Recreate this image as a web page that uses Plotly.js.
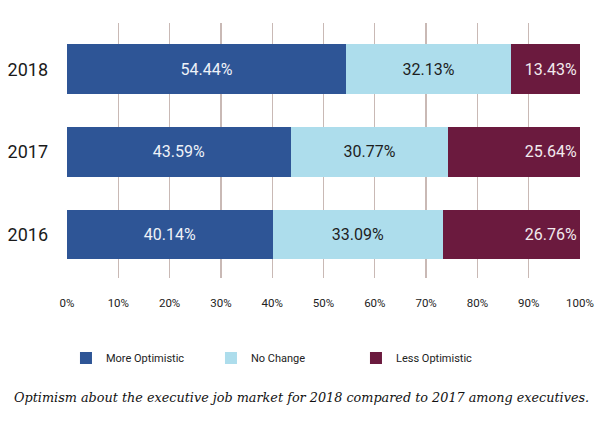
<!DOCTYPE html>
<html>
<head>
<meta charset="utf-8">
<script src="https://cdn.plot.ly/plotly-3.0.1.min.js"></script>
<style>html,body{margin:0;padding:0;background:#fff;}#chart{width:600px;height:427px;}</style>
</head>
<body>
<div id="chart"></div>
<script>
var years = ['2016', '2017', '2018'];
var moreOptimistic = [40.14, 43.59, 54.44];
var noChange = [33.09, 30.77, 32.13];
var lessOptimistic = [26.76, 25.64, 13.43];
var seriesNames = ['More Optimistic', 'No Change', 'Less Optimistic'];
var xTicks = [0, 10, 20, 30, 40, 50, 60, 70, 80, 90, 100];
var caption = 'Optimism about the executive job market for 2018 compared to 2017 among executives.';

var colors = ['#2E5596', '#ADDDEC', '#6B1A3E'];
var textColors = ['#EEF2F8', '#1E1E1E', '#F2EAEE'];
var anchors = ['middle', 'middle', 'end'];
var vals = [moreOptimistic, noChange, lessOptimistic];

var traces = vals.map(function (v, i) {
  return {
    type: 'bar',
    orientation: 'h',
    name: seriesNames[i],
    y: years,
    x: v,
    marker: {color: colors[i], line: {width: 0}},
    text: v.map(function (d) { return d.toFixed(2) + '%'; }),
    textposition: 'inside',
    insidetextanchor: anchors[i],
    constraintext: 'none',
    textfont: {family: 'Roboto, sans-serif', size: 16, color: textColors[i]},
    hoverinfo: 'skip'
  };
});

var layout = {
  width: 600,
  height: 427,
  margin: {l: 67, r: 20, t: 23, b: 149},
  paper_bgcolor: '#ffffff',
  plot_bgcolor: '#ffffff',
  barmode: 'stack',
  bargap: 0.4,
  showlegend: true,
  font: {family: 'Roboto, sans-serif', color: '#222'},
  xaxis: {
    range: [0, 100],
    tickvals: xTicks,
    ticktext: xTicks.map(function (t) { return t + '%'; }),
    showgrid: true,
    gridcolor: '#C9B9B5',
    gridwidth: 1.3,
    zeroline: false,
    showline: false,
    ticks: '',
    ticklabelstandoff: 16,
    tickfont: {family: 'Roboto, sans-serif', size: 11.5, color: '#222'},
    fixedrange: true
  },
  yaxis: {
    type: 'category',
    range: [-0.53, 2.56],
    showgrid: false,
    zeroline: false,
    showline: false,
    ticks: '',
    ticklabelstandoff: 18,
    tickfont: {family: 'Roboto, sans-serif', size: 18, color: '#1a1a1a'},
    fixedrange: true
  },
  legend: {
    orientation: 'h',
    x: -0.002,
    xanchor: 'left',
    y: -0.314,
    yanchor: 'middle',
    traceorder: 'normal',
    entrywidth: 100,
    entrywidthmode: 'pixels',
    font: {family: 'Roboto, sans-serif', size: 11, color: '#222'}
  },
  annotations: [{
    xref: 'paper', yref: 'paper',
    x: 0.458, y: -0.47,
    xanchor: 'center', yanchor: 'middle',
    showarrow: false,
    text: '<i>' + caption + '</i>',
    font: {family: 'DejaVu Serif, serif', size: 12.8, color: '#111'}
  }]
};

Plotly.newPlot('chart', traces, layout, {displayModeBar: false, staticPlot: true});
</script>
</body>
</html>
